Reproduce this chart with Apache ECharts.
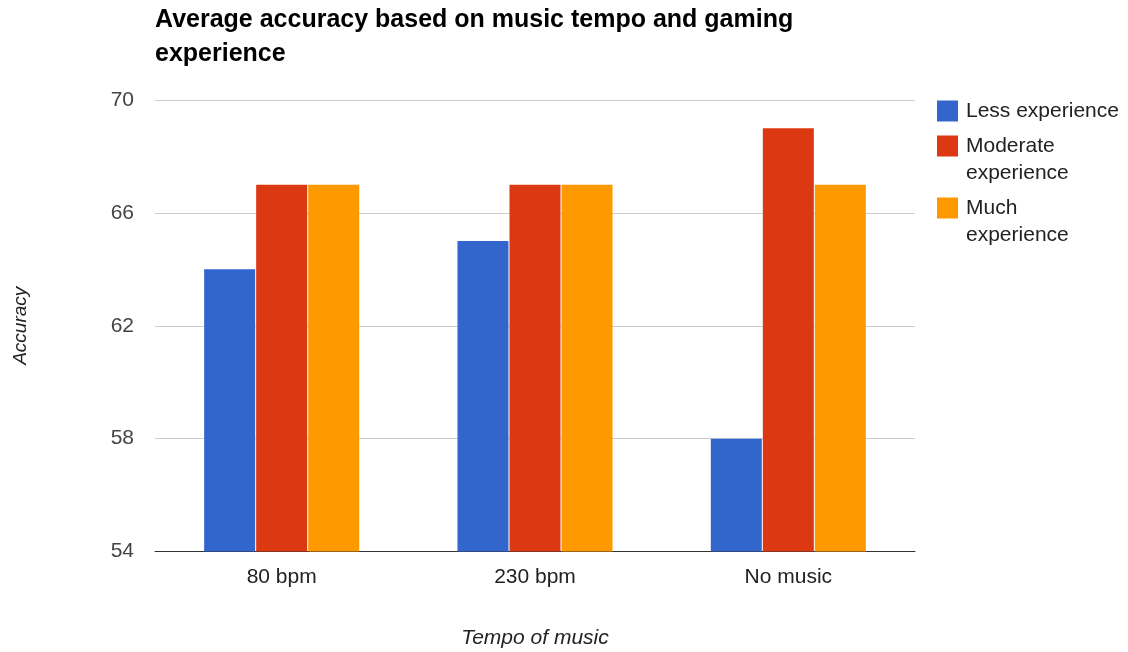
<!DOCTYPE html>
<html>
<head>
<meta charset="utf-8">
<title>Average accuracy based on music tempo and gaming experience</title>
<script src="https://cdn.jsdelivr.net/npm/echarts@6/dist/echarts.min.js"></script>
<style>
  html, body { margin: 0; padding: 0; background: #fff; }
  #chart { width: 1128px; height: 652px; }
</style>
</head>
<body>
<div id="chart"></div>
<script>
// Tempo conditions along the x axis
const categories = ['80 bpm', '230 bpm', 'No music'];

// Average accuracy per experience group
const lessExperience = [64, 65, 58];
const moderateExperience = [67, 67, 69];
const muchExperience = [67, 67, 67];

// Series names and their wrapped legend labels
// (a leading blank line keeps the icon level with the first text line)
const seriesNames = ['Less experience', 'Moderate experience', 'Much experience'];
const legendLabels = {
  'Less experience': 'Less experience',
  'Moderate experience': ' \nModerate\nexperience',
  'Much experience': ' \nMuch\nexperience'
};

// Value axis range
const yMin = 54, yMax = 70, yStep = 4;

const FONT = 'Arial, "Liberation Sans", sans-serif';
const colors = ['#3366cc', '#dc3912', '#ff9900'];
const seriesData = [lessExperience, moderateExperience, muchExperience];

const chart = echarts.init(document.getElementById('chart'), null, { renderer: 'canvas' });

chart.setOption({
  animation: false,
  color: colors,
  textStyle: { fontFamily: FONT },
  title: {
    text: 'Average accuracy based on music tempo and gaming\nexperience',
    left: 155,
    top: 3.5,
    padding: 0,
    textStyle: {
      fontFamily: FONT,
      fontSize: 25,
      fontWeight: 'bold',
      color: '#000',
      lineHeight: 33.5
    }
  },
  legend: {
    orient: 'vertical',
    left: 937,
    top: 97.5,
    padding: 0,
    itemWidth: 21,
    itemHeight: 21,
    itemGap: -19,
    icon: 'rect',
    selectedMode: false,
    data: seriesNames,
    formatter: name => legendLabels[name],
    textStyle: {
      fontFamily: FONT,
      fontSize: 21,
      color: '#222',
      lineHeight: 27,
      padding: [0, 0, 0, 3]
    }
  },
  grid: {
    left: 155, right: 213, top: 100, bottom: 100.5,
    containLabel: false,
    outerBoundsMode: 'none'
  },
  xAxis: {
    type: 'category',
    data: categories,
    name: 'Tempo of music',
    nameLocation: 'middle',
    nameGap: 76,
    nameTextStyle: { fontFamily: FONT, fontSize: 21, fontStyle: 'italic', color: '#222' },
    axisLine: { show: true, lineStyle: { color: '#333', width: 1 } },
    axisTick: { show: false },
    axisLabel: { fontFamily: FONT, fontSize: 21, color: '#222', margin: 15 }
  },
  yAxis: {
    type: 'value',
    min: yMin,
    max: yMax,
    interval: yStep,
    name: 'Accuracy',
    nameLocation: 'middle',
    nameGap: 125,
    nameTextStyle: { fontFamily: FONT, fontSize: 19, fontStyle: 'italic', color: '#222' },
    axisLine: { show: false },
    axisTick: { show: false },
    axisLabel: { fontFamily: FONT, fontSize: 21, color: '#444', margin: 21 },
    splitLine: { lineStyle: { color: '#cccccc', width: 1 } }
  },
  series: seriesNames.map((n, i) => ({
    name: n,
    type: 'bar',
    data: seriesData[i],
    barCategoryGap: '38.8%',
    barGap: '2%',
    itemStyle: { color: colors[i] }
  }))
});
</script>
</body>
</html>
